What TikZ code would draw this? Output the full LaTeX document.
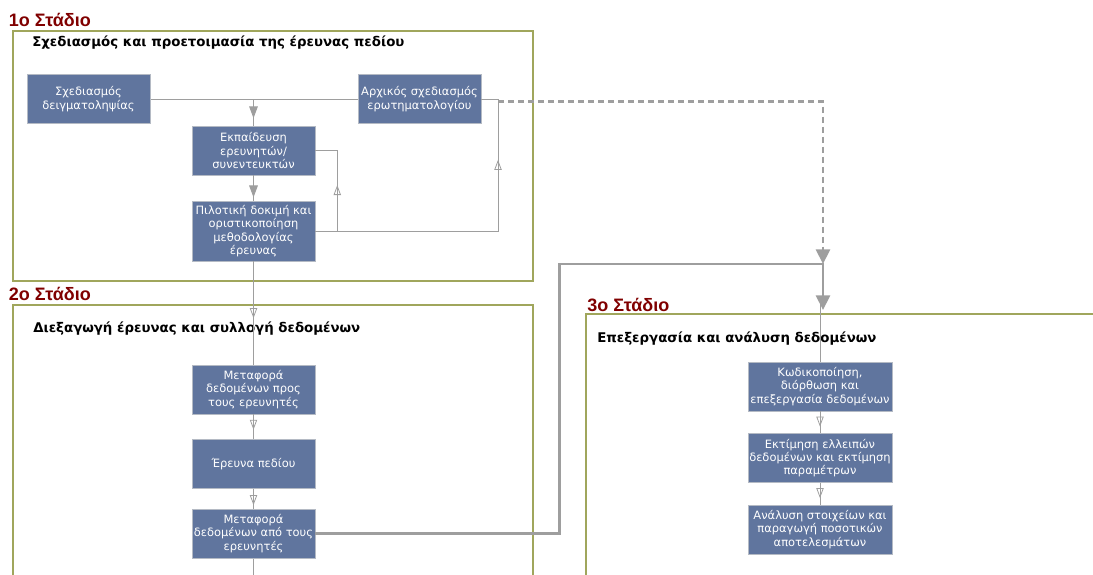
\documentclass[tikz,border=0pt]{standalone}
\usepackage{fontspec}
\setmainfont{DejaVu Sans}
\newfontfamily\stagefont{Liberation Sans}
\usepackage{xcolor}
\usetikzlibrary{arrows.meta,decorations.markings}

\definecolor{boxblue}{RGB}{96,117,158}
\definecolor{boxedge}{RGB}{180,186,196}
\definecolor{frameolive}{RGB}{160,166,92}
\definecolor{linegray}{RGB}{158,158,158}
\definecolor{stagered}{RGB}{128,0,0}

\tikzset{
  box/.style={draw=boxedge,fill=boxblue,text=white,align=center,inner sep=1pt,
    minimum width=92.25pt,minimum height=36.75pt,font=\fontsize{8.6}{10}\selectfont},
  widebox/.style={box,minimum width=108pt},
  frame/.style={draw=frameolive,line width=1pt},
  stage/.style={anchor=base west,inner sep=0pt,text=stagered,font=\stagefont\bfseries\fontsize{13.5}{15}\selectfont},
  title/.style={anchor=base west,inner sep=0pt,font=\bfseries\fontsize{10}{12}\selectfont},
  flow/.style={draw=linegray,line width=0.75pt},
  openmid/.style={postaction={decorate},decoration={markings,
    mark=at position #1 with {\arrow[linegray,line width=0.6pt]{Triangle[open,length=7.5pt,width=5.5pt]}}}},
  fillmid/.style={postaction={decorate},decoration={markings,
    mark=at position #1 with {\arrow[linegray]{Triangle[length=9pt,width=6.5pt]}}}},
  bigflow/.style={draw=linegray,line width=2.2pt,-{Triangle[length=11pt,width=10.5pt]}},
}

\begin{document}
\begin{tikzpicture}[x=0.75pt,y=-0.75pt]
		\useasboundingbox (0,0) rectangle (1093,575);
		% frames
		\draw[frame] (13,31) rectangle (533,281);
		\draw[frame] (13,575) |- (533,305) -- (533,575);
		\draw[frame] (586,575) |- (1093,314);
		%
		\node[stage] (S1) at (8.5,26) {1ο Στάδιο};
		\node[stage] (S2) at (8.5,300) {2ο Στάδιο};
		\node[stage] (S3) at (587,311) {3ο Στάδιο};
		\node[title] (T1) at (32,46) {Σχεδιασμός και προετοιμασία της έρευνας πεδίου};
		\node[title] (T2) at (33,332) {Διεξαγωγή έρευνας και συλλογή δεδομένων};
		\node[title] (T3) at (597,342) {Επεξεργασία και ανάλυση δεδομένων};
		%
		\coordinate (qturn) at (498,99);
		\coordinate (join) at (823,264);
		\coordinate (s3in) at (823,310);
		\coordinate (exit) at (253.5,575);
		% lines drawn behind the boxes
		\draw[flow] (88.5,99) -- (419.5,99);
		\draw[flow] (253.5,240) -- (exit);
		\draw[flow] (820,300) -- (820,530);
		%
		\node[box] (samp) at (88.5,99) {Σχεδιασμός\\δειγματοληψίας};
		\node[box] (quest) at (419.5,99) {Αρχικός σχεδιασμός\\ερωτηματολογίου};
		\node[box] (train) at (253.5,150.5) {Εκπαίδευση\\ερευνητών/\\συνεντευκτών};
		\node[box,minimum height=45pt] (pilot) at (253.5,231) {Πιλοτική δοκιμή και\\οριστικοποίηση\\μεθοδολογίας\\έρευνας};
		\node[box] (move1) at (253.5,389.5) {Μεταφορά\\δεδομένων προς\\τους ερευνητές};
		\node[box] (field) at (253.5,464) {Έρευνα πεδίου};
		\node[box] (move2) at (253.5,533.5) {Μεταφορά\\δεδομένων από τους\\ερευνητές};
		\node[widebox] (code) at (820,386.5) {Κωδικοποίηση,\\διόρθωση και\\επεξεργασία δεδομένων};
		\node[widebox] (est) at (820,458) {Εκτίμηση ελλειπών\\δεδομένων και εκτίμηση\\παραμέτρων};
		\node[widebox] (anal) at (820,529.5) {Ανάλυση στοιχείων και\\παραγωγή ποσοτικών\\αποτελεσμάτων};
		%
		\path[flow]
		% filled arrows
		(train.north |- samp.east) edge[fillmid=0.72] (train)
		(train) edge[fillmid=0.87] (pilot)
		% open arrows
		(pilot) edge[openmid=0.55] (move1)
		(move1) edge[openmid=0.62] (field)
		(field) edge[openmid=0.82] (move2)
		(code) edge[openmid=0.7] (est)
		(est) edge[openmid=0.7] (anal);
		% feedback loops
		\draw[flow,openmid=0.546] (pilot.east) -- ++(22,0) |- (train.east);
		\draw[flow,openmid=0.766] (pilot.east) -| (qturn) -- (quest.east);
		% to stage 3
		\draw[bigflow,dash pattern=on 4.5pt off 3pt] ([yshift=-2pt]qturn) -| (join);
		\draw[bigflow] (move2.east) -- ++(244,0) |- (join) -- (s3in);
		\draw[flow] (code.north |- s3in) -- (code);
\end{tikzpicture}
\end{document}
